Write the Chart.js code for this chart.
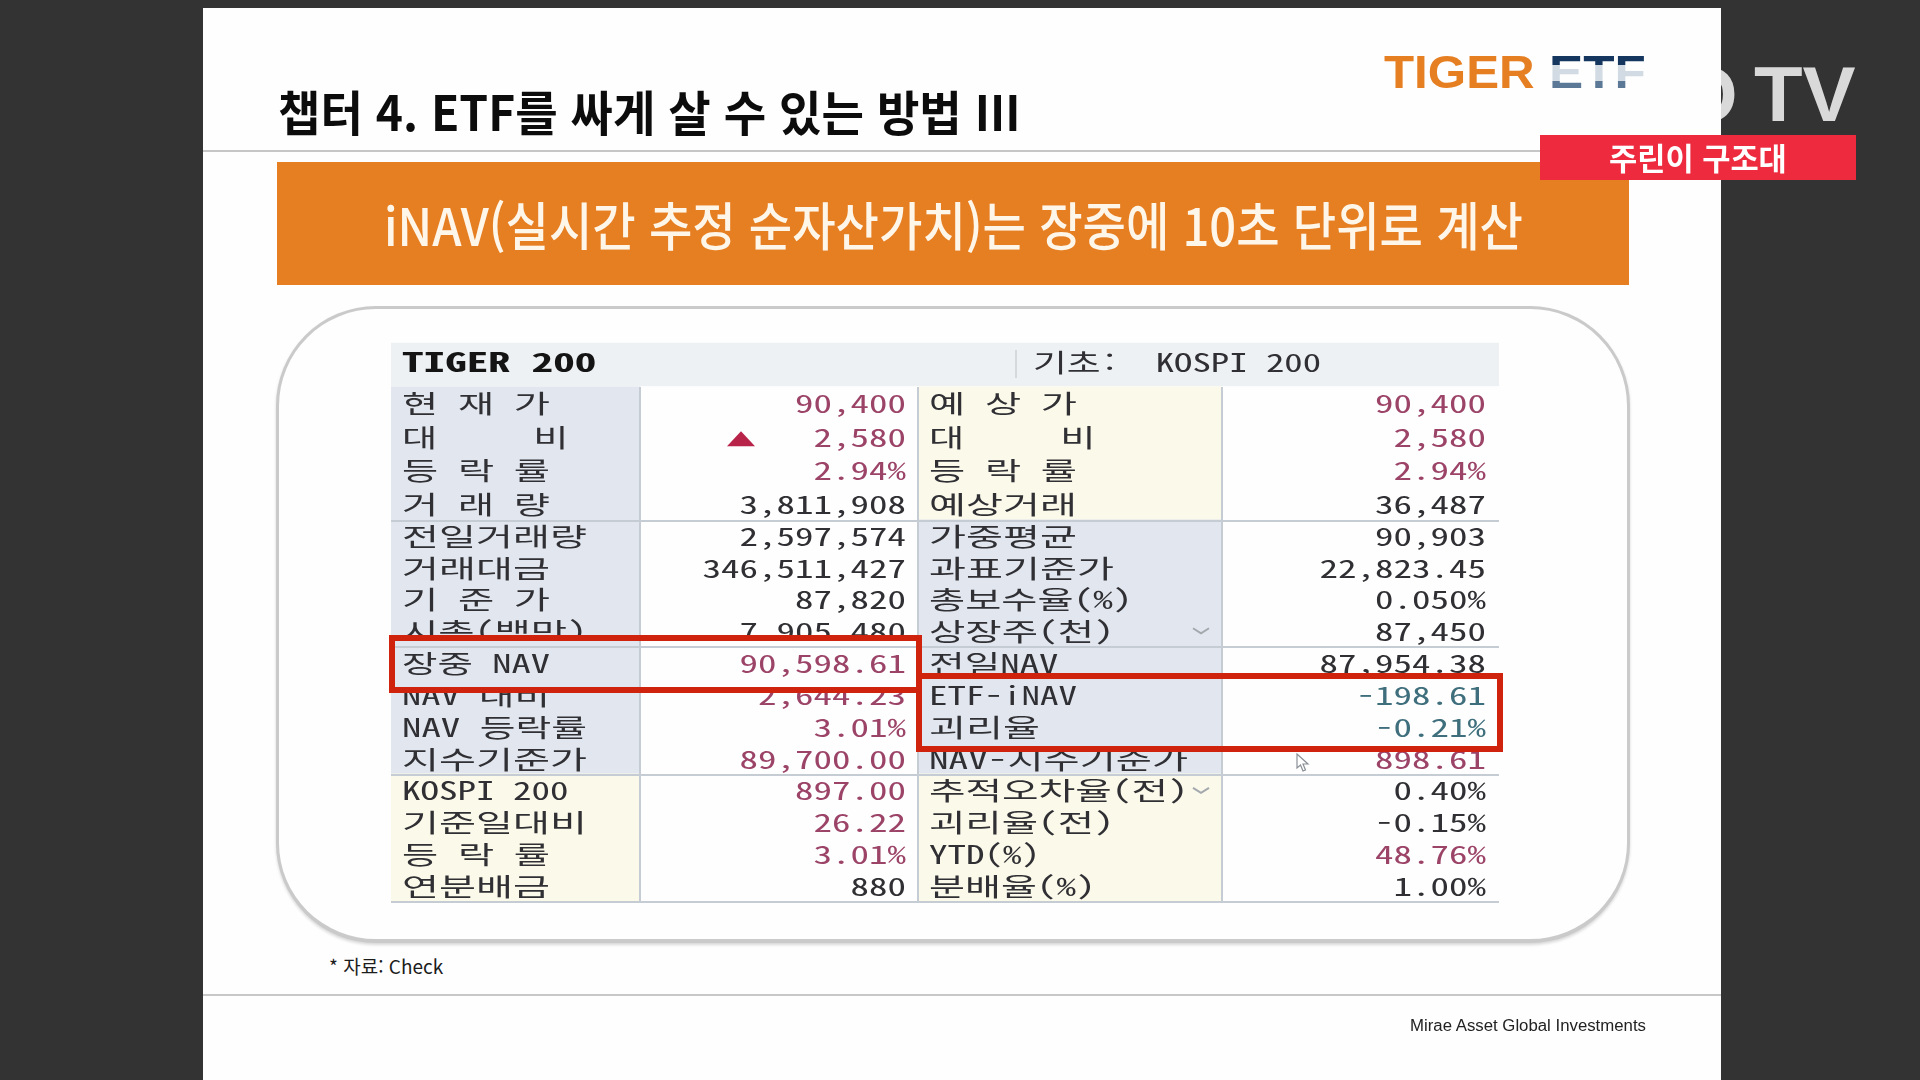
<!DOCTYPE html>
<html lang="ko">
<head>
<meta charset="utf-8">
<title>TIGER 200 iNAV</title>
<script src="https://cdn.jsdelivr.net/npm/chart.js@4"></script>
<style>
  html, body { margin: 0; width: 1920px; height: 1080px; overflow: hidden; background: #333333; font-family: "Noto Sans CJK KR", sans-serif; }
  body { filter: blur(0.5px); }
  .abs { position: absolute; white-space: nowrap; transform-origin: left center; line-height: 1; }
  #tv-o { left: 1677px; top: 49px; font: bold 78px "Liberation Sans", sans-serif; color: #d9d9d9; }
  #tv { left: 1754px; top: 49px; font: bold 78px "Liberation Sans", sans-serif; color: #d9d9d9; }
  #slide { position: absolute; left: 203px; top: 8px; width: 1518px; height: 1072px; background: #fefefe; }
  #head-line { position: absolute; left: 203px; top: 150px; width: 1518px; height: 2px; background: #c6c6c6; }
  #banner { position: absolute; left: 277px; top: 162px; width: 1352px; height: 123px; background: #e67e22; }
  #round { position: absolute; left: 276px; top: 306px; width: 1348px; height: 630px; border: 3px solid #cacaca; border-bottom-width: 4px; border-radius: 100px; background: #fefefe; box-shadow: 0 2px 3px #d8d8d8; }
  #title { left: 278px; top: 86px; font-size: 48px; font-weight: 700; color: #0c0c0c; }
  #banner-text { left: 384px; top: 198px; font-size: 52px; font-weight: 500; color: #fff6ea; }
  #tiger { left: 1384px; top: 44px; font: bold 47px "Liberation Sans", sans-serif; color: #e57f22; }
  #etf { left: 1549px; top: 44px; font: bold 47px "Liberation Sans", sans-serif; color: transparent;
    background: linear-gradient(#14365f 0 38%, #d2dbe4 38% 68%, #5b7896 68% 100%); -webkit-background-clip: text; background-clip: text; }
  #tag { position: absolute; left: 1540px; top: 135px; width: 316px; height: 45px; background: #ee2a3f; }
  #tag-text { left: 1609px; top: 141px; font-size: 31px; font-weight: 700; color: #ffffff; }
  #source { left: 329px; top: 956px; font-size: 19px; color: #1c1c1c; }
  #foot-line { position: absolute; left: 203px; top: 994px; width: 1518px; height: 2px; background: #c8c8c8; }
  #firm { left: 1410px; top: 1017px; font: 16px "Liberation Sans", sans-serif; color: #222222; }
  #table-wrap { position: absolute; left: 380px; top: 330px; width: 1130px; height: 590px; }
  #cursor { position: absolute; left: 1296px; top: 753px; }
</style>
</head>
<body>
  <div id="tv-o" class="abs">O</div>
  <div id="tv" class="abs" data-w="102">TV</div>
  <div id="slide"></div>
  <div id="head-line"></div>
  <div id="banner"></div>
  <div id="round"></div>
  <div id="title" class="abs" data-w="742">챕터 4. ETF를 싸게 살 수 있는 방법 III</div>
  <div id="banner-text" class="abs" data-w="1139">iNAV(실시간 추정 순자산가치)는 장중에 10초 단위로 계산</div>
  <div id="tiger" class="abs" data-w="151">TIGER</div>
  <div id="etf" class="abs" data-w="97">ETF</div>
  <div id="tag"></div>
  <div id="tag-text" class="abs" data-w="178">주린이 구조대</div>
  <div id="source" class="abs" data-w="114">* 자료: Check</div>
  <div id="foot-line"></div>
  <div id="firm" class="abs" data-w="236">Mirae Asset Global Investments</div>
  <div id="table-wrap"><canvas id="table-chart"></canvas></div>
  <svg id="cursor" width="14" height="19" viewBox="0 0 14 19"><path d="M1 1 L1 15 L4.5 12 L7 18 L9.5 17 L7 11 L12 11 Z" fill="#ffffff" stroke="#8a8f96" stroke-width="1.2"/></svg>

<script>
// Table contents, top to bottom
const headerName = 'TIGER 200';
const headerBase = '기초:  KOSPI 200';
const leftLabels = ['현 재 가', '대     비', '등 락 률', '거 래 량', '전일거래량', '거래대금', '기 준 가', '시총(백만)', '장중 NAV', 'NAV 대비', 'NAV 등락률', '지수기준가', 'KOSPI 200', '기준일대비', '등 락 률', '연분배금'];
const leftValues = ['90,400', '2,580', '2.94%', '3,811,908', '2,597,574', '346,511,427', '87,820', '7,905,480', '90,598.61', '2,644.23', '3.01%', '89,700.00', '897.00', '26.22', '3.01%', '880'];
const rightLabels = ['예 상 가', '대     비', '등 락 률', '예상거래', '가중평균', '과표기준가', '총보수율(%)', '상장주(천)', '전일NAV', 'ETF-iNAV', '괴리율', 'NAV-지수기준가', '추적오차율(전)', '괴리율(전)', 'YTD(%)', '분배율(%)'];
const rightValues = ['90,400', '2,580', '2.94%', '36,487', '90,903', '22,823.45', '0.050%', '87,450', '87,954.38', '-198.61', '-0.21%', '898.61', '0.40%', '-0.15%', '48.76%', '1.00%'];

// u = up (red), d = down (teal), n = neutral
const leftTones = 'uuunnnnnuuuuuuun'.split('');
const rightTones = 'uuunnnnnnddunnun'.split('');
const leftShades = 'bbbbbbbbbbbbcccc'.split('');
const rightShades = 'ccccbbbbbbbbcccc'.split('');

const toneColors = { u: '#9c4468', d: '#3f6f7c', n: '#303034' };
const shadeColors = { b: '#e1e6ef', c: '#fbf9ea' };

// Layout of the grid, in pixels of the table
const columnWidths = [249, 278, 304, 277];
const headerHeight = 45;
const rowHeights = [33.5, 33.5, 33.5, 33.5, 31.5, 31.5, 31.5, 31.5, 32, 32, 32, 32, 31.75, 31.75, 31.75, 31.75];
const tableHeight = headerHeight + rowHeights.reduce((a, b) => a + b, 0);
const tableWidth = columnWidths.reduce((a, b) => a + b, 0);
const rowEdges = [headerHeight];
rowHeights.forEach(h => rowEdges.push(rowEdges[rowEdges.length - 1] + h));
const rowCenters = rowHeights.map((h, i) => rowEdges[i] + h / 2);

const monoFont = '"Noto Sans Mono CJK KR", "Noto Sans CJK KR", monospace';
const halfCell = 18.5;

// Fit slide texts to the measured width of the reference
document.querySelectorAll('[data-w]').forEach(el => {
  el.style.transform = `scaleX(${el.dataset.w / el.offsetWidth})`;
});

const columnBar = (col, colors) => ({
  label: `col${col}`,
  data: rowCenters.map(y => ({ x: columnWidths[col], y })),
  backgroundColor: colors,
  barThickness: 34,
  order: 2
});

// The terminal font sits on a grid: hangul takes two half cells, the rest one
const gridWidth = (text, cell) => [...text].reduce((w, ch) => w + (/[\u3131-\uD7A3]/.test(ch) ? 2 : 1) * cell, 0);

const drawOnGrid = (ctx, text, x, y, align, font, color, cell = halfCell) => {
  ctx.save();
  ctx.font = font;
  const sx = gridWidth(text, cell) / ctx.measureText(text).width;
  ctx.translate(x, y);
  ctx.scale(sx, 1);
  ctx.fillStyle = color;
  ctx.textAlign = align;
  ctx.textBaseline = 'middle';
  ctx.fillText(text, 0, 0);
  ctx.restore();
};

// Texts, rules and the two highlight boxes of the quote table
const tablePlugin = {
  id: 'tableText',
  afterDatasetsDraw(chart) {
    const { ctx, scales: { x, y } } = chart;
    const px = v => x.getPixelForValue(v);
    const py = v => y.getPixelForValue(v);
    const colX = [0, 249, 527, 831, 1108];
    const font = `25px ${monoFont}`;

    // grid rules
    ctx.save();
    ctx.strokeStyle = '#c6ccd4';
    ctx.lineWidth = 2;
    [1, 2, 3].forEach(c => {
      ctx.beginPath();
      ctx.moveTo(px(colX[c]), py(headerHeight));
      ctx.lineTo(px(colX[c]), py(tableHeight));
      ctx.stroke();
    });
    [4, 8, 12, 16].forEach(r => {
      ctx.beginPath();
      ctx.moveTo(px(0), py(rowEdges[r]));
      ctx.lineTo(px(tableWidth), py(rowEdges[r]));
      ctx.stroke();
    });
    ctx.strokeStyle = '#d6d9dc';
    ctx.beginPath();
    ctx.moveTo(px(625), py(8));
    ctx.lineTo(px(625), py(36));
    ctx.stroke();
    ctx.restore();

    drawOnGrid(ctx, headerName, px(11), py(20), 'left', `bold 26px ${monoFont}`, '#141414', 21.6);
    drawOnGrid(ctx, headerBase, px(642), py(20), 'left', font, '#303034', 18);

    const boxes = [
      { first: 8, last: 8, padTop: 9, padBottom: 11, from: 0, to: 527 },
      { first: 9, last: 10, padTop: 3, padBottom: 6, from: 527, to: 1108 }
    ];
    const boxTop = b => rowEdges[b.first] - b.padTop;
    const boxBottom = b => rowEdges[b.last + 1] + b.padBottom;

    const drawCell = (side, row, text, xp, align, color) => {
      const b = boxes[side];
      ctx.save();
      if (row < b.first || row > b.last) {
        ctx.beginPath();
        if (row < b.first) ctx.rect(x.left, py(0), x.width, py(boxTop(b)) - py(0));
        else ctx.rect(x.left, py(boxBottom(b)), x.width, py(tableHeight) - py(boxBottom(b)));
        ctx.clip();
      }
      drawOnGrid(ctx, text, xp, py(rowCenters[row]), align, font, color);
      ctx.restore();
    };

    leftLabels.forEach((t, i) => drawCell(0, i, t, px(11), 'left', '#303034'));
    leftValues.forEach((t, i) => drawCell(0, i, t, px(515), 'right', toneColors[leftTones[i]]));
    rightLabels.forEach((t, i) => drawCell(1, i, t, px(538), 'left', '#303034'));
    rightValues.forEach((t, i) => drawCell(1, i, t, px(1095), 'right', toneColors[rightTones[i]]));

    // up marker next to the change
    ctx.save();
    ctx.fillStyle = '#b8234a';
    ctx.beginPath();
    ctx.moveTo(px(350), py(rowCenters[1]) - 6);
    ctx.lineTo(px(336), py(rowCenters[1]) + 9);
    ctx.lineTo(px(364), py(rowCenters[1]) + 9);
    ctx.closePath();
    ctx.fill();
    // small dropdown chevrons
    ctx.strokeStyle = '#a3a8ad';
    ctx.lineWidth = 2;
    [7, 12].forEach(r => {
      ctx.beginPath();
      ctx.moveTo(px(802), py(rowCenters[r]) - 3);
      ctx.lineTo(px(810), py(rowCenters[r]) + 2);
      ctx.lineTo(px(818), py(rowCenters[r]) - 3);
      ctx.stroke();
    });
    // highlight boxes
    ctx.strokeStyle = '#cf230d';
    ctx.lineWidth = 6;
    boxes.forEach(b => {
      ctx.strokeRect(px(b.from) + 1, py(boxTop(b)), px(b.to) - px(b.from), py(boxBottom(b)) - py(boxTop(b)));
    });
    ctx.restore();
  }
};

new Chart(document.getElementById('table-chart'), {
  type: 'bar',
  data: {
    datasets: [
      { label: 'header', data: [{ x: tableWidth, y: headerHeight / 2 }], backgroundColor: '#eef1f3', barThickness: 43, order: 3 },
      columnBar(0, leftShades.map(s => shadeColors[s])),
      columnBar(1, rowCenters.map(() => '#fefefe')),
      columnBar(2, rightShades.map(s => shadeColors[s])),
      columnBar(3, rowCenters.map(() => '#fefefe'))
    ]
  },
  options: {
    indexAxis: 'y',
    responsive: true,
    maintainAspectRatio: false,
    animation: false,
    layout: { padding: { left: 11, right: 11, top: 12, bottom: 18 } },
    plugins: { legend: { display: false }, tooltip: { enabled: false } },
    scales: {
      x: { type: 'linear', stacked: true, min: 0, max: tableWidth, display: false },
      y: { type: 'linear', stacked: true, min: 0, max: tableHeight, reverse: true, offset: false, display: false }
    }
  },
  plugins: [tablePlugin]
});
</script>
</body>
</html>
